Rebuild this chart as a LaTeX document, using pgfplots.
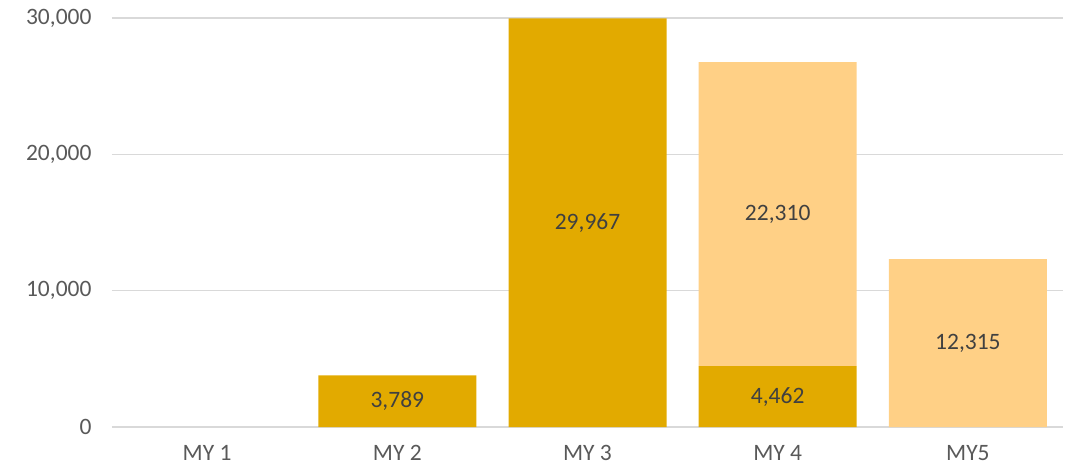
\documentclass[border=0pt]{standalone}
\usepackage{pgfplots}
\pgfplotsset{compat=1.18}
\usepackage{fontspec}
\setmainfont{Carlito}
\definecolor{darkgold}{HTML}{E2AA00}
\definecolor{lightgold}{HTML}{FFD086}
\definecolor{gridgray}{HTML}{D9D9D9}
\definecolor{ticktext}{HTML}{595959}
\definecolor{labeltext}{HTML}{404040}
\begin{document}
\begin{tikzpicture}
\path[use as bounding box] (-112pt,-42pt) rectangle (957pt,427pt);
\pgfplotsset{
  common/.style={
    scale only axis, width=951pt, height=409pt,
    xmin=-0.5, xmax=4.5, ymin=0, ymax=30000,
  }
}
\begin{axis}[common,
  ybar stacked, bar width=158pt,
  axis line style={draw=none},
  ymajorgrids, grid style={gridgray, line width=1.3pt},
  ytick={0,10000,20000,30000},
  xtick={0,1,2,3,4},
  xticklabels={MY 1,MY 2,MY 3,MY 4,MY5},
  major tick length=0pt,
  /pgf/number format/assume math mode=true,
  /pgf/number format/1000 sep={,},
  scaled y ticks=false,
  yticklabel style={font=\fontsize{23.5}{27}\selectfont, text=ticktext, xshift=-17pt},
  xticklabel style={font=\fontsize{23.5}{27}\selectfont, text=ticktext, yshift=-15pt},
]
\addplot[draw=none, fill=darkgold] coordinates {(0,0) (1,3789) (2,29967) (3,4462) (4,0)};
\addplot[draw=none, fill=lightgold] coordinates {(0,0) (1,0) (2,0) (3,22310) (4,12315)};
\end{axis}
\begin{axis}[common, hide axis]
\addplot[draw=none, mark=none, nodes near coords, point meta=explicit symbolic,
  every node near coord/.style={anchor=center, font=\fontsize{23.5}{27}\selectfont, text=labeltext}]
  coordinates {(1,1894.5)[3,789] (2,14983.5)[29,967] (3,2231)[4,462] (3,15617)[22,310] (4,6157.5)[12,315]};
\end{axis}
\end{tikzpicture}
\end{document}
